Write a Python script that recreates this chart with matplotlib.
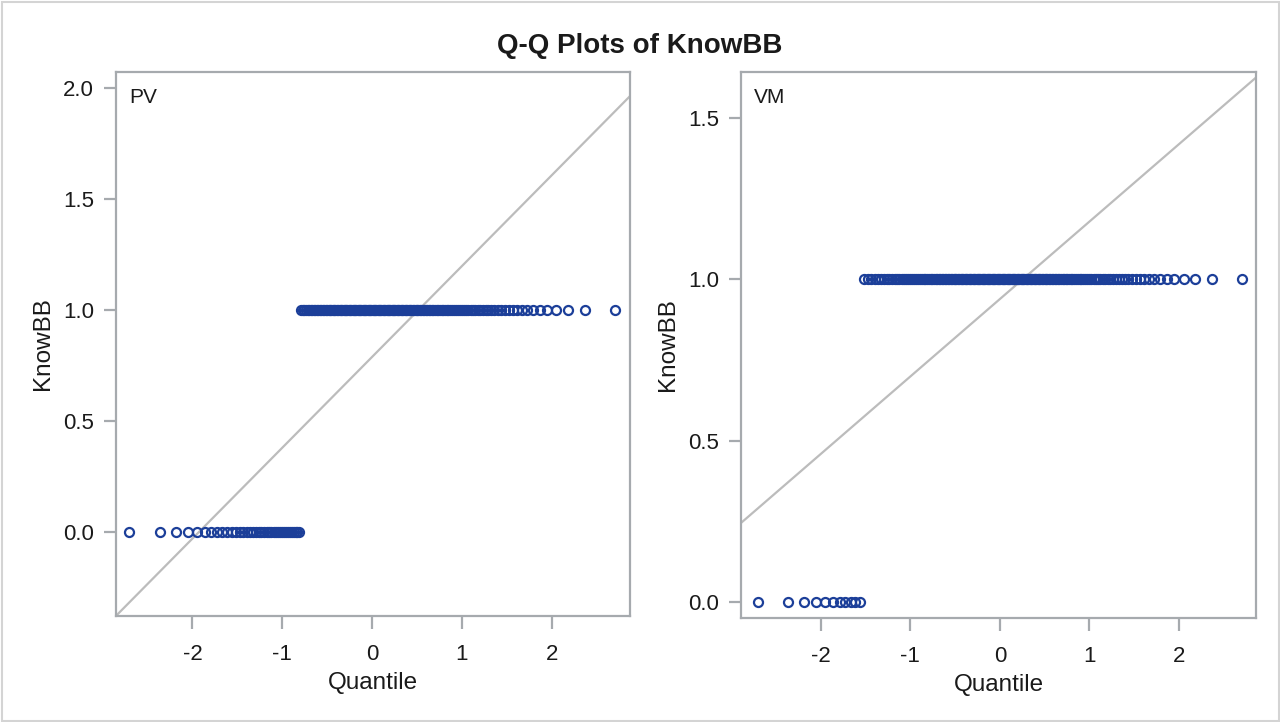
import numpy as np
import matplotlib
matplotlib.use("Agg")
import matplotlib.pyplot as plt
from matplotlib.patches import Rectangle
from statistics import NormalDist

plt.rcParams['font.family'] = ['Liberation Sans', 'DejaVu Sans']

# KnowBB responses (0 = no, 1 = yes) per group
groups = ["PV", "VM"]
count_zero = [38, 11]
count_one = [142, 169]

x_ticks = [-2, -1, 0, 1, 2]
y_ticks = [[0.0, 0.5, 1.0, 1.5, 2.0], [0.0, 0.5, 1.0, 1.5]]
y_limits = [(-0.378, 2.072), (-0.05, 1.643)]
x_limits = [(-2.85, 2.87), (-2.89, 2.86)]

W, H = 1280, 722
fig = plt.figure(figsize=(W / 100, H / 100), dpi=100)

# outer frame
fig.add_artist(Rectangle((1.5 / W, 1.5 / H), 1 - 3 / W, 1 - 3 / H,
                         transform=fig.transFigure, fill=False,
                         edgecolor="#d4d4d4", linewidth=1.5))

fig.text(0.5, 1 - 46 / H, "Q-Q Plots of KnowBB", ha="center", va="center",
         fontsize=20, fontweight="bold", color="#1a1a1a")

boxes = [(116, 72, 630, 616), (741, 72, 1256, 618)]
spine_c = "#a6aaae"
marker_c = "#1c3f99"
line_c = "#bcbcbc"
nd = NormalDist()

for i, g in enumerate(groups):
    x0, y0, x1, y1 = boxes[i]
    ax = fig.add_axes([x0 / W, 1 - y1 / H, (x1 - x0) / W, (y1 - y0) / H])
    values = np.sort(np.r_[np.zeros(count_zero[i]), np.ones(count_one[i])])
    n = len(values)
    # Blom normal scores
    ranks = np.arange(1, n + 1)
    q = np.array([nd.inv_cdf((r - 0.375) / (n + 0.25)) for r in ranks])
    mu = values.mean()
    sigma = values.std(ddof=1)

    xl = x_limits[i]
    xs = np.array([xl[0] - 1, xl[1] + 1])
    ax.plot(xs, mu + sigma * xs, color=line_c, linewidth=1.6, zorder=1)
    ax.plot(q, values, linestyle="none", marker="o", markersize=6.5,
            markerfacecolor="none", markeredgecolor=marker_c,
            markeredgewidth=1.6, zorder=2)

    ax.set_xlim(*xl)
    ax.set_ylim(*y_limits[i])
    ax.set_xticks(x_ticks)
    ax.set_xticklabels([str(t) for t in x_ticks])
    ax.set_yticks(y_ticks[i])
    ax.set_yticklabels([f"{t:.1f}" for t in y_ticks[i]])
    for s in ax.spines.values():
        s.set_color(spine_c)
        s.set_linewidth(1.6)
    ax.tick_params(direction="out", length=9, width=1.6, color=spine_c,
                   labelsize=16, labelcolor="#1a1a1a")
    ax.tick_params(axis="x", pad=11)
    ax.tick_params(axis="y", pad=7)
    ax.set_xlabel("Quantile", fontsize=17.5, color="#1a1a1a", labelpad=5)
    ax.set_ylabel("KnowBB", fontsize=17.5, color="#1a1a1a", labelpad=6)
    ax.text(0.025, 0.97, g, transform=ax.transAxes, ha="left", va="top",
            fontsize=15, color="#1a1a1a")

fig.savefig("out.png", dpi=100)
